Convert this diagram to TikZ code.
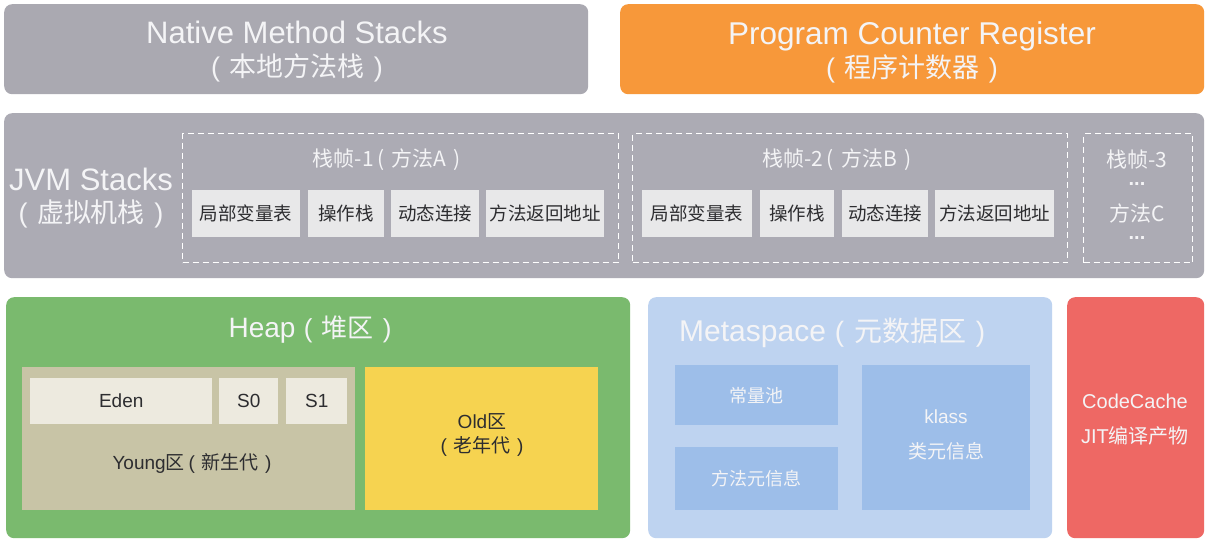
\documentclass[tikz,border=0pt]{standalone}
\usepackage{fontspec}
\setmainfont{Liberation Sans}
\newfontfamily\cjk{Noto Sans CJK SC}
\newcommand{\zh}[1]{{\cjk #1}}
\newcommand{\pzh}[1]{(\hspace{0.35em}{\cjk #1}\hspace{0.35em})}
\definecolor{ngray}{RGB}{170,169,177}
\definecolor{porange}{RGB}{247,152,58}
\definecolor{jgray}{RGB}{172,171,180}
\definecolor{cellgray}{RGB}{232,232,233}
\definecolor{hgreen}{RGB}{122,186,110}
\definecolor{youngc}{RGB}{200,196,166}
\definecolor{edenc}{RGB}{237,234,223}
\definecolor{oldc}{RGB}{246,211,80}
\definecolor{metac}{RGB}{190,211,240}
\definecolor{metain}{RGB}{157,190,233}
\definecolor{codec}{RGB}{238,104,100}
\definecolor{lighttext}{RGB}{244,244,246}
\definecolor{darktext}{RGB}{45,45,48}
\begin{document}
\begin{tikzpicture}[x=1pt,y=-1pt,
  region/.style={draw=none, rounded corners=8pt, anchor=north west, inner sep=0pt},
  plainbox/.style={draw=none, anchor=north west, inner sep=0pt},
  cell/.style={draw=none, anchor=north west, inner sep=0pt, fill=cellgray,
    font=\cjk\fontsize{18.5}{20}\selectfont, text=darktext, minimum height=47pt},
  sframe/.style={draw=white, line width=1.4pt, dash pattern=on 6pt off 4pt,
    anchor=north west, inner sep=0pt, minimum height=129pt},
  lite/.style={text=lighttext, inner sep=0pt},
  dark/.style={text=darktext, inner sep=0pt},
  ftitle/.style={lite, font=\cjk\fontsize{21}{24}\selectfont},
  dots/.style={lite, font=\bfseries\fontsize{20}{22}\selectfont},
]
\fill[white] (0,0) rectangle (1208,541);
\useasboundingbox (0,0) rectangle (1208,541);

% top row
\node[region, fill=ngray, minimum width=584pt, minimum height=90pt] (native) at (4,4) {};
\node[lite, align=center, font=\fontsize{31}{33}\selectfont] (nativet) at (297,52)
  {Native Method Stacks\\ {\fontsize{27}{33}\selectfont\pzh{本地方法栈}}};
\node[region, fill=porange, minimum width=584pt, minimum height=90pt] (pcr) at (620,4) {};
\node[lite, align=center, font=\fontsize{31.5}{33}\selectfont] (pcrt) at (912,52)
  {Program Counter Register\\ {\fontsize{27}{33}\selectfont\pzh{程序计数器}}};

% JVM stacks
\node[region, fill=jgray, minimum width=1200pt, minimum height=165pt] (jvm) at (4,113) {};
\node[lite, align=center, font=\fontsize{31}{32}\selectfont] (jvmt) at (91,198)
  {JVM Stacks\\ {\fontsize{27}{32}\selectfont\pzh{虚拟机栈}}};

\node[sframe, minimum width=436pt] (f1) at (182,133) {};
\node[ftitle] (f1t) at (387,160) {栈帧-1\,\pzh{方法A}};
\node[cell, minimum width=108pt] (a1) at (192,190) {局部变量表};
\node[cell, minimum width=76pt] (a2) at (308,190) {操作栈};
\node[cell, minimum width=88pt] (a3) at (391,190) {动态连接};
\node[cell, minimum width=118pt] (a4) at (486,190) {方法返回地址};

\node[sframe, minimum width=435pt] (f2) at (632,133) {};
\node[ftitle] (f2t) at (837,160) {栈帧-2\,\pzh{方法B}};
\node[cell, minimum width=110pt] (b1) at (642,190) {局部变量表};
\node[cell, minimum width=74pt] (b2) at (760,190) {操作栈};
\node[cell, minimum width=86pt] (b3) at (842,190) {动态连接};
\node[cell, minimum width=119pt] (b4) at (935,190) {方法返回地址};

\node[sframe, minimum width=109pt] (f3) at (1083,133) {};
\node[ftitle] (f3t) at (1137,160) {栈帧-3};
\node[dots] (f3d1) at (1137,184) {...};
\node[ftitle] (f3m) at (1137,213) {方法C};
\node[dots] (f3d2) at (1137,238) {...};

% Heap
\node[region, fill=hgreen, minimum width=624pt, minimum height=241pt] (heap) at (6,297) {};
\node[lite, font=\fontsize{28}{30}\selectfont] (heapt) at (310,330) {Heap\hspace{0.3em}{\fontsize{26}{30}\selectfont\pzh{堆区}}};
\node[plainbox, fill=youngc, minimum width=333pt, minimum height=143pt] (young) at (22,367) {};
\node[plainbox, fill=edenc, minimum width=182pt, minimum height=46pt, dark, font=\fontsize{19}{22}\selectfont] (eden) at (30,378) {Eden};
\node[plainbox, fill=edenc, minimum width=59pt, minimum height=46pt, dark, font=\fontsize{19}{22}\selectfont] (s0) at (219,378) {S0};
\node[plainbox, fill=edenc, minimum width=61pt, minimum height=46pt, dark, font=\fontsize{19}{22}\selectfont] (s1) at (286,378) {S1};
\node[dark, font=\fontsize{19}{22}\selectfont] (youngt) at (192,463) {Young\zh{区}\hspace{0.2em}\pzh{新生代}};
\node[plainbox, fill=oldc, minimum width=233pt, minimum height=143pt] (old) at (365,367) {};
\node[dark, align=center, font=\fontsize{19}{24}\selectfont] (oldt) at (482,435) {Old\zh{区}\\ \pzh{老年代}};

% Metaspace
\node[region, fill=metac, minimum width=404pt, minimum height=241pt] (meta) at (648,297) {};
\node[lite, anchor=west, font=\fontsize{30}{32}\selectfont] (metat) at (679,333) {Metaspace\hspace{0.3em}{\fontsize{28}{32}\selectfont\pzh{元数据区}}};
\node[plainbox, fill=metain, minimum width=163pt, minimum height=60pt, lite, font=\cjk\fontsize{18}{20}\selectfont] (cpool) at (675,365) {常量池};
\node[plainbox, fill=metain, minimum width=163pt, minimum height=63pt, lite, font=\cjk\fontsize{18}{20}\selectfont] (minfo) at (675,447) {方法元信息};
\node[plainbox, fill=metain, minimum width=168pt, minimum height=145pt] (klass) at (862,365) {};
\node[lite, align=center, font=\fontsize{19}{35}\selectfont] (klasst) at (946,435) {klass\\ \zh{类元信息}};

% CodeCache
\node[region, fill=codec, minimum width=137pt, minimum height=241pt] (code) at (1067,297) {};
\node[lite, align=center, font=\fontsize{20}{35}\selectfont] (codet) at (1135,420) {CodeCache\\ JIT\zh{编译产物}};
\end{tikzpicture}
\end{document}
